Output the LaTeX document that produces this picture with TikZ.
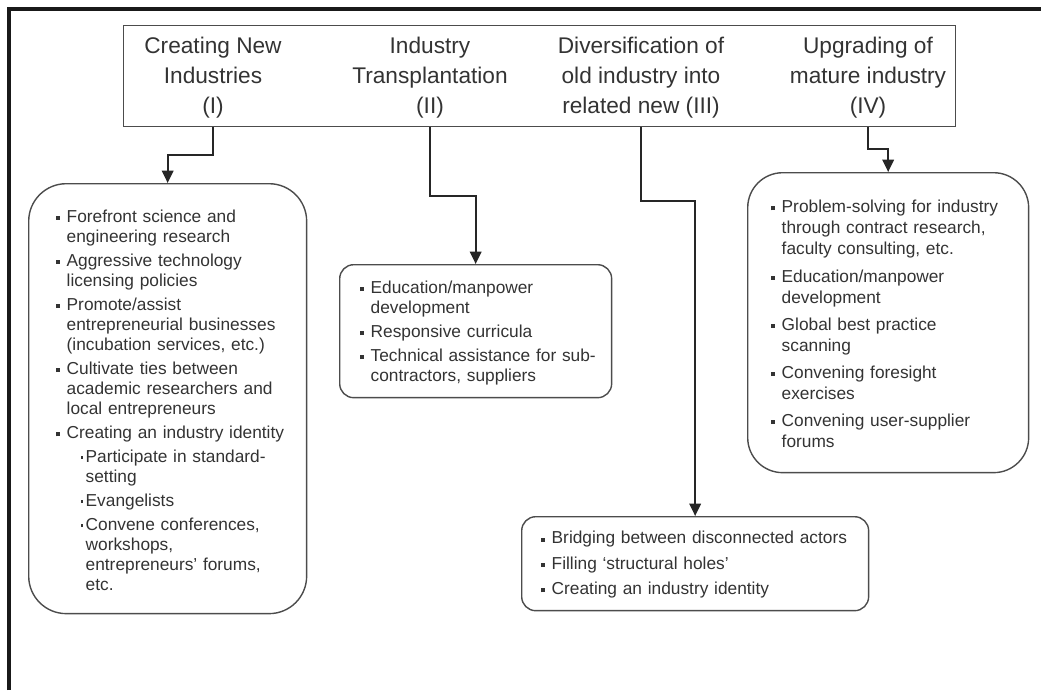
\documentclass[tikz,border=0pt]{standalone}
\usepackage{fontspec}
\setmainfont{Liberation Sans}
\usetikzlibrary{arrows.meta,positioning}

\definecolor{inkgrey}{gray}{0.2}
\definecolor{linegrey}{gray}{0.3}
\newlength{\itemgap}
\setlength{\itemgap}{2.3pt}
\newcommand{\headfont}{\fontsize{12.9}{17.1}\selectfont}
\newcommand{\bodyfont}{\fontsize{9.85}{11.4}\selectfont}
\newcommand{\sqbul}{\raisebox{0.25ex}{\rule{0.24em}{0.24em}}}
\newcommand{\dotbul}{\raisebox{0.42ex}{\rule{0.15em}{0.15em}}}
% bullet entry and sub-entry, with hanging indent
\newcommand{\listentry}[1]{\par\noindent\hangindent=0.22cm\hangafter=1%
  \makebox[0.22cm][l]{\sqbul}#1\par\vspace{\itemgap}}
\newcommand{\sublistentry}[1]{\par\noindent\hangindent=0.6cm\hangafter=1%
  \hspace*{0.5cm}\makebox[0.1cm][l]{\dotbul}#1\par\vspace{\itemgap}}

\tikzset{
  headbox/.style={draw=linegrey, line width=0.8pt, anchor=north west, inner sep=0pt},
  headtext/.style={align=center, font=\headfont, text=inkgrey},
  listbox/.style={draw=linegrey, line width=0.8pt, anchor=north west, align=left,
    font=\bodyfont, text=inkgrey, inner xsep=0.16cm, inner ysep=0pt},
  arrowline/.style={-{Triangle[length=7pt,width=6.5pt]}, line width=1.1pt, draw=black!85}
}

\begin{document}
\begin{tikzpicture}[x=0.02cm, y=-0.02cm]
\useasboundingbox (0,0) rectangle (1041,690);
% outer frame
\draw[line width=2.3pt, black!90] (9,690) -- (9,9) -- (1041,9);

% top box with the four headings
\node[headbox, minimum width=16.64cm, minimum height=2.02cm] (top) at (123,25) {};
\node[headtext] (t1) at (213,78) {Creating New\\Industries\\(I)};
\node[headtext] (t2) at (430,78) {Industry\\Transplantation\\(II)};
\node[headtext] (t3) at (641,78) {Diversification of\\old industry into\\related new (III)};
\node[headtext] (t4) at (868,78) {Upgrading of\\mature industry\\(IV)};

% lists
\node[listbox, text width=5.24cm, minimum height=8.6cm, rounded corners=0.75cm] (lb) at (28,183) {%
  \setlength{\leftskip}{0.38cm}%
  \listentry{Forefront science and\newline engineering research}
  \listentry{Aggressive technology\newline licensing policies}
  \listentry{Promote/assist\newline entrepreneurial businesses\newline (incubation services, etc.)}
  \listentry{Cultivate ties between\newline academic researchers and\newline local entrepreneurs}
  \listentry{Creating an industry identity}
  \sublistentry{Participate in standard-\newline setting}
  \sublistentry{Evangelists}
  \sublistentry{Convene conferences,\newline workshops,\newline entrepreneurs' forums,\newline etc.}};

\node[listbox, text width=5.12cm, minimum height=2.66cm, rounded corners=0.28cm] (mb) at (339,264) {%
  \setlength{\leftskip}{0.24cm}%
  \listentry{Education/manpower\newline development}
  \listentry{Responsive curricula}
  \listentry{Technical assistance for sub-\newline contractors, suppliers}};

\node[listbox, text width=5.3cm, minimum height=6cm, rounded corners=0.7cm] (rb) at (747,172) {%
  \setlength{\leftskip}{0.3cm}\setlength{\itemgap}{3.4pt}\fontsize{9.85}{12}\selectfont
  \listentry{Problem-solving for industry\newline through contract research,\newline faculty consulting, etc.}
  \listentry{Education/manpower\newline development}
  \listentry{Global best practice\newline scanning}
  \listentry{Convening foresight\newline exercises}
  \listentry{Convening user-supplier\newline forums}};

\node[listbox, text width=6.62cm, minimum height=1.88cm, rounded corners=0.28cm] (bb) at (521,516) {%
  \setlength{\leftskip}{0.22cm}\setlength{\itemgap}{3pt}%
  \listentry{Bridging between disconnected actors}
  \listentry{Filling `structural holes'}
  \listentry{Creating an industry identity}};

% connectors
\draw[arrowline] (t1 |- top.south) -- ++(0,28) -| (lb.north);
\draw[arrowline] (t2 |- top.south) -- ++(0,69) -| (mb.north);
\draw[arrowline] (t3 |- top.south) -- ++(0,74) -| (bb.north);
\draw[arrowline] (t4 |- top.south) -- ++(0,22) -| (rb.north);
\end{tikzpicture}
\end{document}
